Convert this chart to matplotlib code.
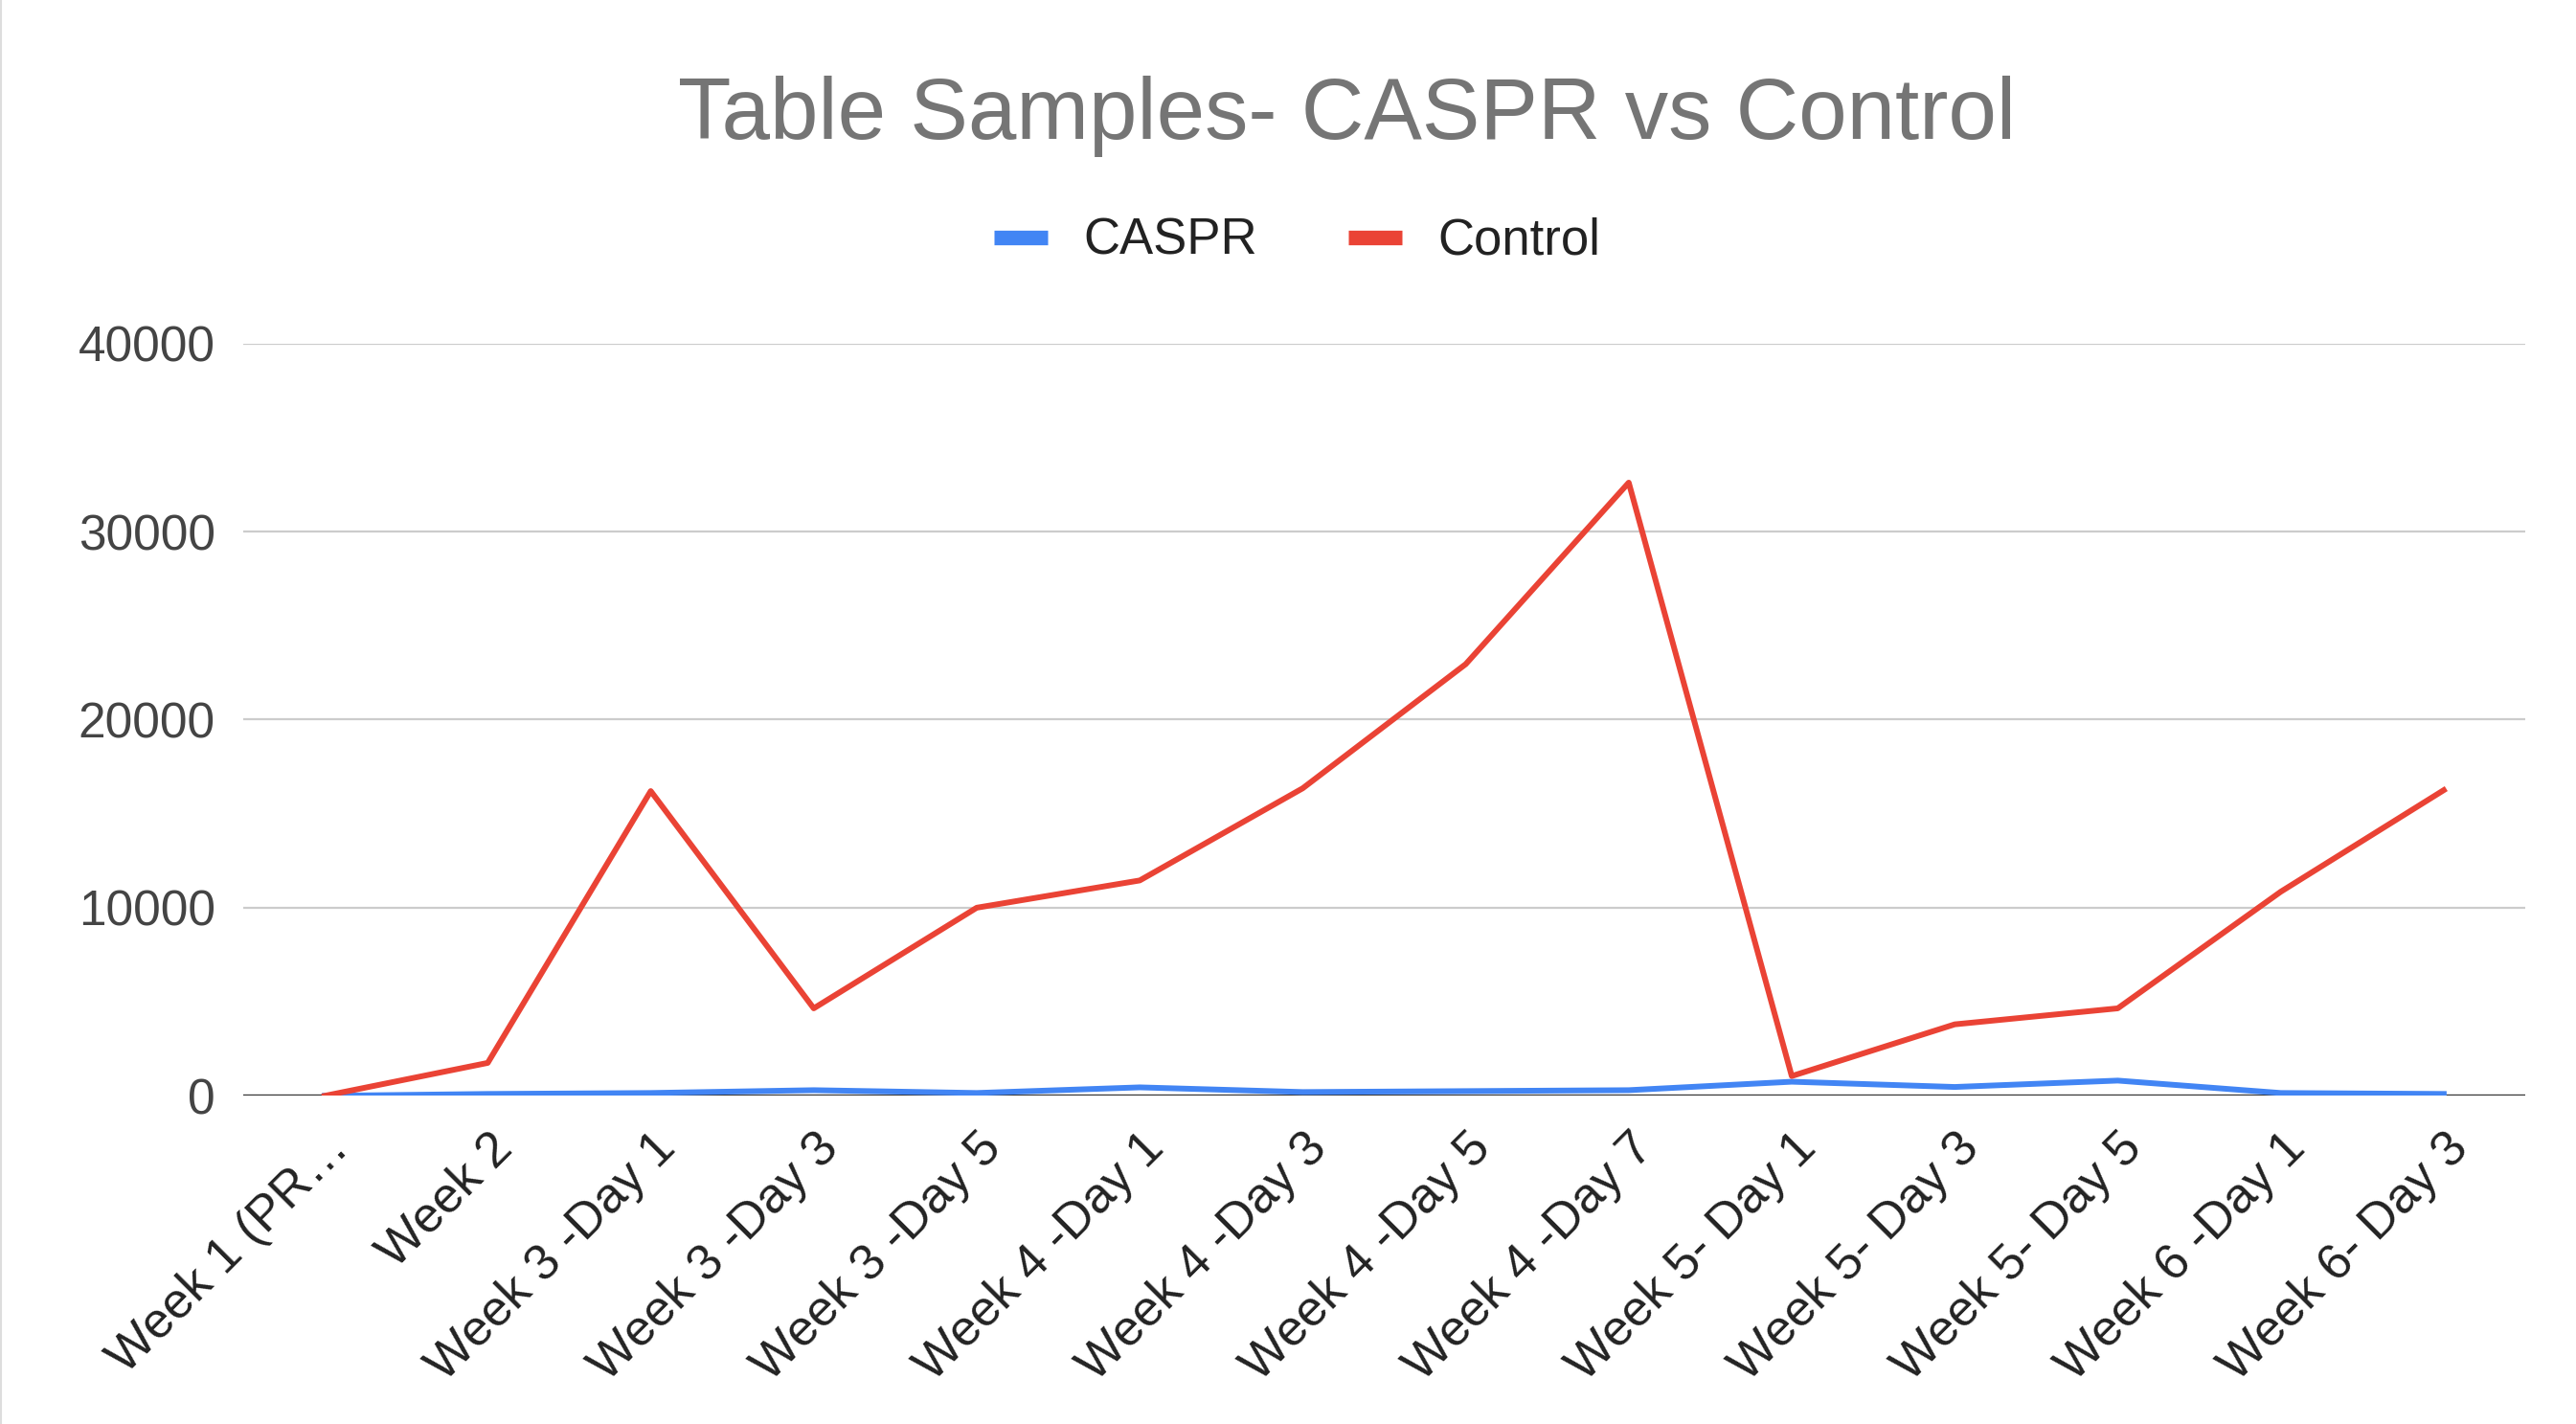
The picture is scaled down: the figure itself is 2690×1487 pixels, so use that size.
import numpy as np
import matplotlib
matplotlib.use("Agg")
import matplotlib.pyplot as plt
import matplotlib.transforms as mtransforms
from matplotlib.lines import Line2D

plt.rcParams['font.family'] = ['Liberation Sans', 'DejaVu Sans']

categories = ["Week 1 (PR…", "Week 2", "Week 3 -Day 1", "Week 3 -Day 3", "Week 3 -Day 5",
              "Week 4 -Day 1", "Week 4 -Day 3", "Week 4 -Day 5", "Week 4 -Day 7",
              "Week 5- Day 1", "Week 5- Day 3", "Week 5- Day 5", "Week 6 -Day 1", "Week 6- Day 3"]
caspr = [0, 100, 150, 300, 150, 450, 200, 250, 300, 750, 470, 810, 150, 100]
control = [0, 1750, 16200, 4650, 10000, 11450, 16350, 22950, 32600, 1050, 3800, 4650, 10850, 16250]
yticks = [0, 10000, 20000, 30000, 40000]

W, H = 2690, 1487
fig = plt.figure(figsize=(W / 100, H / 100), dpi=100)
fig.patch.set_facecolor('white')

left, right = 254, 2637
top, bottom = 358.6, 1144.3
ax = fig.add_axes([left / W, 1 - bottom / H, (right - left) / W, (bottom - top) / H])

x = np.arange(len(categories))
ax.plot(x, caspr, color='#4285F4', lw=4.3, solid_joinstyle='round', zorder=4, label='CASPR')
ax.plot(x, control, color='#EA4335', lw=4.3, solid_joinstyle='round', zorder=5, label='Control')

ax.set_xlim(-0.5, len(categories) - 0.5)
ax.set_ylim(0, 40000)
ax.set_yticks(yticks)
ax.set_yticklabels([str(v) for v in yticks])
for v in yticks[1:]:
    ax.axhline(v, color='#cccccc', lw=1.6, zorder=1)
ax.axhline(0, color='#333333', lw=2.4, zorder=3)

for s in ax.spines.values():
    s.set_visible(False)
ax.tick_params(axis='y', length=0, pad=21, labelsize=37, labelcolor='#444444')
ax.tick_params(axis='x', length=0, pad=34, labelsize=37.5, labelcolor='#222222')
ax.set_xticks(x)
ax.set_xticklabels(categories, rotation=45, ha='right', va='center', rotation_mode='anchor')
offset = mtransforms.ScaledTranslation(18 / 100, 0, fig.dpi_scale_trans)
for lab in ax.get_xticklabels():
    lab.set_transform(lab.get_transform() + offset)

fig.text(1407 / W, 1 - 122 / H, "Table Samples- CASPR vs Control", ha='center', va='center',
         fontsize=65.3, color='#757575')

handles = [Line2D([], [], color='#4285F4', lw=11, solid_capstyle='butt'),
           Line2D([], [], color='#EA4335', lw=11, solid_capstyle='butt')]
fig.legend(handles, ['CASPR', 'Control'], loc='center', bbox_to_anchor=(1355 / W, 1 - 252 / H),
           ncol=2, frameon=False, fontsize=38, handlelength=1.05, handletextpad=0.72,
           columnspacing=1.8, labelcolor='#222222')

fig.add_artist(Line2D([1 / W, 1 / W], [0, 1], color='#dddddd', lw=1.5, transform=fig.transFigure))

fig.savefig('out.png', dpi=100, facecolor='white')
